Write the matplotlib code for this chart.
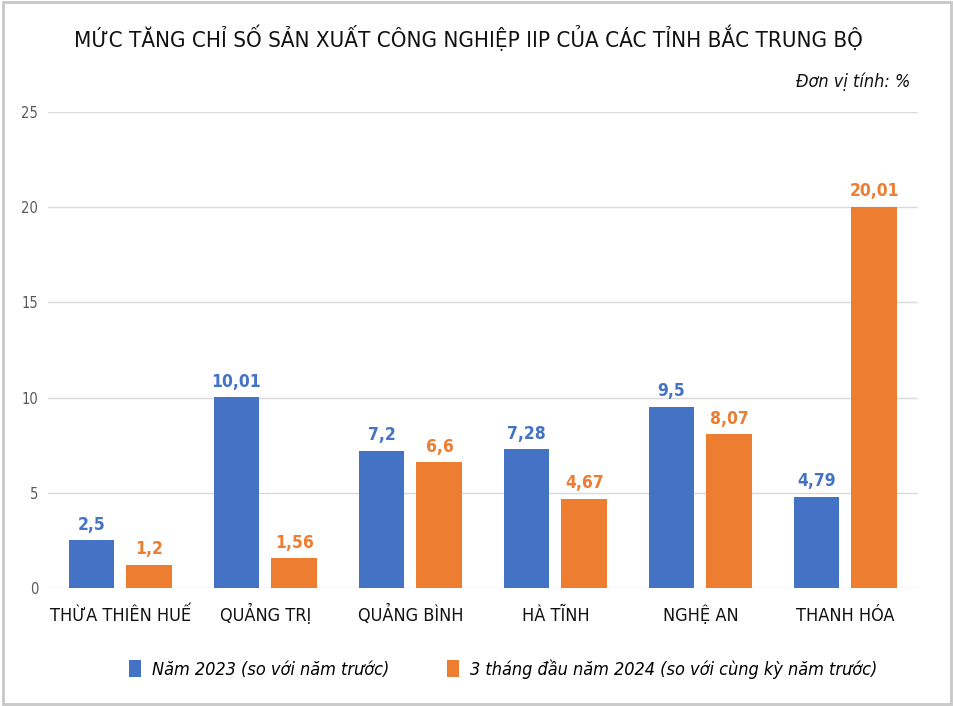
import matplotlib
matplotlib.use("Agg")
import matplotlib.pyplot as plt
from matplotlib.patches import Rectangle
import numpy as np

plt.rcParams['font.family'] = ['DejaVu Sans']
plt.rcParams['font.stretch'] = 'condensed'

categories = ["THỪA THIÊN HUẾ", "QUẢNG TRỊ", "QUẢNG BÌNH", "HÀ TĨNH", "NGHỆ AN", "THANH HÓA"]
values_2023 = [2.5, 10.01, 7.2, 7.28, 9.5, 4.79]
values_2024 = [1.2, 1.56, 6.6, 4.67, 8.07, 20.01]
labels_2023 = ["2,5", "10,01", "7,2", "7,28", "9,5", "4,79"]
labels_2024 = ["1,2", "1,56", "6,6", "4,67", "8,07", "20,01"]
series_names = ["Năm 2023 (so với năm trước)", "3 tháng đầu năm 2024 (so với cùng kỳ năm trước)"]
yticks = [0, 5, 10, 15, 20, 25]

blue = "#4472C4"
orange = "#ED7D31"

fig = plt.figure(figsize=(9.54, 7.06), dpi=100)
ax = fig.add_axes([48/954, 118/706, 870/954, 476/706])

x = np.arange(len(categories))
w = 0.317
off = (w + 12/145) / 2
b1 = ax.bar(x - off, values_2023, w, color=blue, label=series_names[0])
b2 = ax.bar(x + off, values_2024, w, color=orange, label=series_names[1])

for xi, v, t in zip(x - off, values_2023, labels_2023):
    ax.text(xi, v + 0.35, t, ha='center', va='bottom', color=blue, fontsize=12.5, fontweight='bold')
for xi, v, t in zip(x + off, values_2024, labels_2024):
    ax.text(xi, v + 0.35, t, ha='center', va='bottom', color=orange, fontsize=12.5, fontweight='bold')

ax.set_xlim(-0.5, len(categories) - 0.5)
ax.set_ylim(0, 25)
ax.set_yticks(yticks)
ax.set_yticklabels([str(t) for t in yticks], color="#595959", fontsize=10.5)
ax.tick_params(axis='y', length=0, pad=7)
ax.set_xticks(x)
ax.set_xticklabels(categories, fontsize=13, color="#111111")
ax.tick_params(axis='x', length=0, pad=24)
for lab in ax.get_xticklabels():
    lab.set_verticalalignment('baseline')
ax.grid(axis='y', color="#d9d9d9", linewidth=1)
ax.set_axisbelow(True)
for s in ax.spines.values():
    s.set_visible(False)

fig.text(468/954, 1 - 38/706, "MỨC TĂNG CHỈ SỐ SẢN XUẤT CÔNG NGHIỆP IIP CỦA CÁC TỈNH BẮC TRUNG BỘ",
         ha='center', va='center', fontsize=16, color="#111111")
fig.text(910/954, 1 - 82/706, "Đơn vị tính: %", ha='right', va='center', fontsize=13,
         style='italic', color="#111111")

leg = fig.legend(handles=[b1, b2], loc='center', bbox_to_anchor=(503/954, 1 - 669/706), ncol=2,
                 frameon=False, handlelength=0.67, handleheight=1.0, handletextpad=0.6,
                 columnspacing=3.2, prop={'style': 'italic', 'size': 13, 'stretch': 'condensed'})

fig.patches.append(Rectangle((0.003, 0.003), 0.994, 0.994, transform=fig.transFigure,
                             fill=False, edgecolor="#c8c8c8", linewidth=2))

fig.savefig("out.png", dpi=100)
